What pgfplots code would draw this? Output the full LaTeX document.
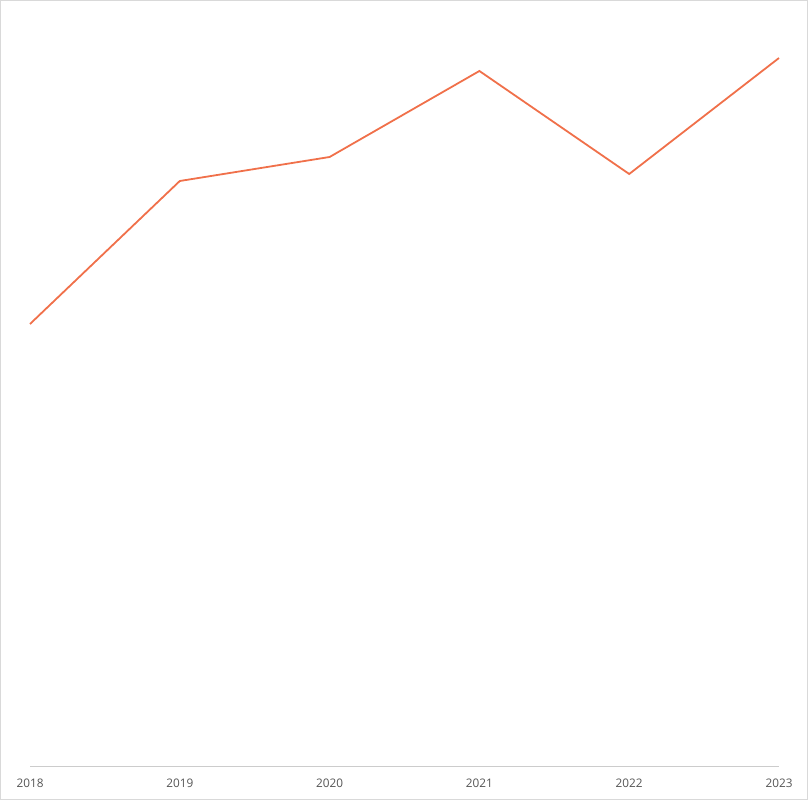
\documentclass[border=0pt]{standalone}
\usepackage{pgfplots}
\pgfplotsset{compat=1.18}
\usepackage{fontspec}
\setmainfont{Open Sans}
\definecolor{lineorange}{HTML}{F0704A}
\definecolor{labelgray}{HTML}{555555}
\definecolor{framegray}{HTML}{D9D9D9}
\definecolor{axisgray}{HTML}{CCCCCC}
\begin{document}
\begin{tikzpicture}[x=1pt,y=1pt]
\draw[framegray, line width=0.8pt] (0.4,0.4) rectangle (807.6,799.6);
\begin{axis}[
    at={(30pt,34pt)}, anchor=south west,
    scale only axis,
    width=749pt, height=746pt,
    xmin=2018, xmax=2023,
    ymin=0, ymax=746,
    axis x line=bottom,
    axis y line=none,
    axis line style={axisgray, line width=0.8pt, -},
    xtick={2018,2019,2020,2021,2022,2023},
    xticklabel style={/pgf/number format/1000 sep={}, text=labelgray, font=\fontsize{11.8}{14}\selectfont},
    /pgf/number format/assume math mode=true,
    major tick length=0pt,
    xticklabel shift=9pt,
    clip=false,
]
\addplot[lineorange, line width=1.8pt, mark=none, line join=miter] coordinates {
    (2018,442) (2019,585) (2020,609) (2021,695) (2022,592) (2023,708)
};
\end{axis}
\end{tikzpicture}
\end{document}
